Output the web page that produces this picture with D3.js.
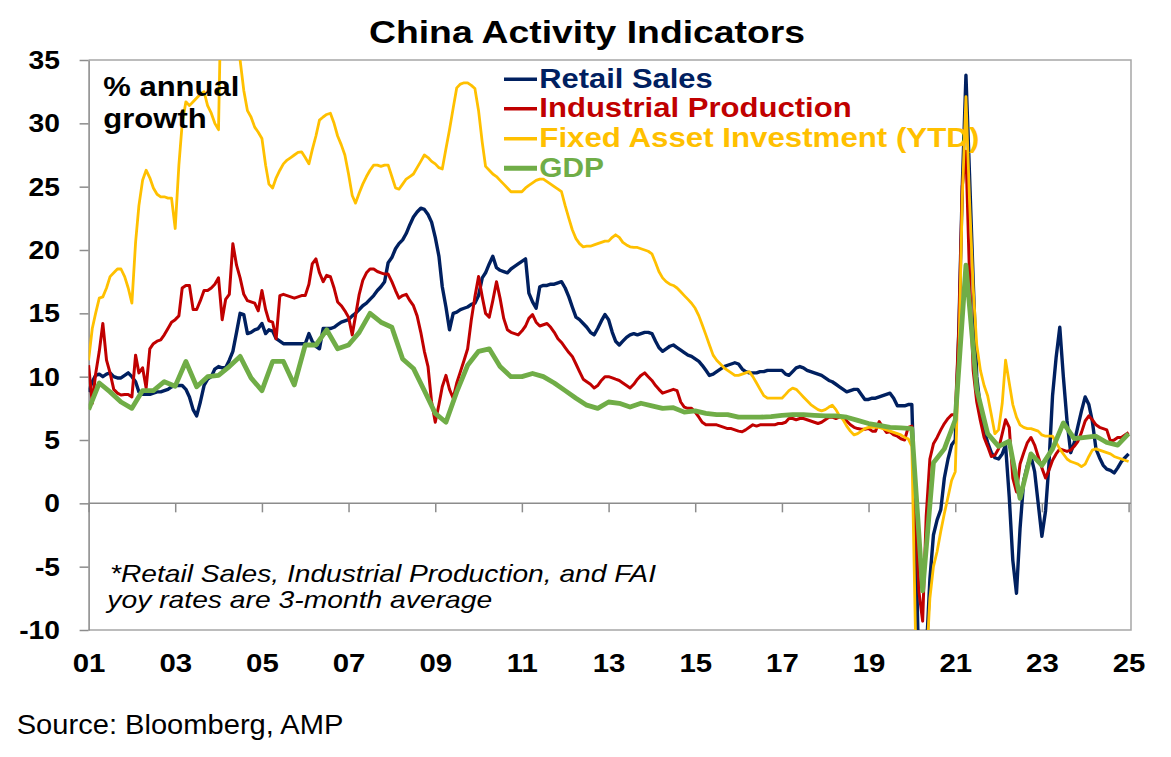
<!DOCTYPE html>
<html>
<head>
<meta charset="utf-8">
<script src="https://cdn.jsdelivr.net/npm/d3@7"></script>
<style>
  html, body { margin: 0; padding: 0; background: #fff; }
  svg { display: block; }
  text { font-family: "Liberation Sans", Arial, Helvetica, sans-serif; }
</style>
</head>
<body>
<svg id="chart" width="1171" height="757"></svg>
<script>
// Monthly points, Jan 2001 .. Jan 2025 (one row per year), % annual growth
const retailSales = [
  8.8, 9.6, 10.1, 10.2, 10.0, 10.2, 10.3, 10.0, 9.9, 9.9, 10.1, 10.3,
  10.0, 9.6, 8.8, 8.6, 8.6, 8.6, 8.7, 8.8, 8.8, 8.9, 9.0, 9.2,
  9.3, 9.3, 9.3, 9.0, 8.4, 7.4, 6.9, 8.0, 9.3, 9.8, 10.0, 10.6,
  10.8, 10.7, 10.7, 11.3, 12.0, 13.5, 15.0, 14.9, 13.4, 13.5, 13.7, 13.8,
  14.2, 13.4, 13.7, 13.6, 13.0, 12.8, 12.6, 12.6, 12.6, 12.6, 12.6, 12.6,
  12.6, 13.4, 12.8, 12.4, 12.2, 13.8, 13.8, 13.8, 13.9, 14.1, 14.3, 14.4,
  14.5, 14.8, 15.0, 15.3, 15.6, 15.8, 16.1, 16.4, 16.8, 17.1, 17.5, 19.0,
  19.4, 20.1, 20.5, 20.8, 21.3, 22.0, 22.6, 23.0, 23.3, 23.2, 22.8, 22.2,
  21.0, 19.5, 17.1, 15.5, 13.7, 15.0, 15.1, 15.3, 15.4, 15.5, 15.7, 15.8,
  16.4, 17.8, 18.2, 18.9, 19.5, 18.6, 18.4, 18.3, 18.2, 18.5, 18.7, 18.9,
  19.1, 19.3, 16.6, 15.9, 15.4, 17.1, 17.2, 17.2, 17.3, 17.3, 17.4, 17.5,
  17.0, 16.3, 15.5, 14.7, 14.5, 14.2, 13.9, 13.5, 13.3, 13.8, 14.4, 14.9,
  14.5, 13.5, 12.8, 12.5, 12.8, 13.1, 13.3, 13.4, 13.3, 13.4, 13.5, 13.5,
  13.4, 12.8, 12.3, 12.0, 12.2, 12.4, 12.5, 12.3, 12.1, 11.9, 11.7, 11.6,
  11.4, 11.2, 10.9, 10.5, 10.1, 10.2, 10.4, 10.6, 10.8, 10.9, 11.0, 11.1,
  11.0, 10.6, 10.4, 10.3, 10.3, 10.3, 10.4, 10.4, 10.5, 10.5, 10.5, 10.5,
  10.5, 10.2, 10.1, 10.4, 10.7, 10.8, 10.7, 10.5, 10.4, 10.3, 10.2, 10.1,
  9.9, 9.7, 9.6, 9.4, 9.2, 9.0, 8.8, 8.9, 9.0, 9.0, 8.6, 8.2,
  8.2, 8.3, 8.3, 8.4, 8.5, 8.6, 8.7, 8.3, 7.7, 7.7, 7.7, 7.8,
  7.8, -2.0, -14.0, -19.0, -12.0, -6.0, -2.5, -1.3, -0.5, 2.0, 3.5, 4.6,
  5.0, 14.0, 25.0, 33.8, 26.0, 17.6, 10.0, 7.5, 5.8, 4.8, 4.0, 3.6,
  3.5, 3.9, 4.6, 0.5, -4.5, -7.1, -2.0, 1.8, 3.0, 3.7, 2.5, 0.0,
  -2.6, -0.6, 3.0, 8.5, 11.5, 13.9, 10.0, 6.5, 4.0, 4.8, 6.1, 7.3,
  8.4, 7.8, 6.5, 4.3, 3.6, 3.0, 2.7, 2.6, 2.4, 2.8, 3.3, 3.6,
  3.9
];

const industrialProduction = [
  10.9, 7.9, 10.2, 12.0, 14.2, 11.3, 10.3, 9.0, 8.7, 8.55, 8.6, 8.6,
  8.4, 11.7, 10.3, 10.7, 9.1, 12.2, 12.6, 12.8, 12.9, 13.3, 13.8, 14.3,
  14.5, 14.8, 17.0, 17.2, 17.2, 15.3, 15.3, 16.0, 16.8, 16.8, 17.0, 17.3,
  17.8, 14.5, 16.1, 16.5, 20.5, 18.8, 17.8, 16.5, 16.0, 15.9, 15.8, 15.2,
  16.8, 15.3, 14.4, 14.3, 13.0, 16.4, 16.5, 16.4, 16.3, 16.2, 16.3, 16.4,
  16.4, 17.3, 18.9, 19.3, 18.2, 17.5, 18.0, 17.9, 17.0, 15.9, 15.6, 15.2,
  14.7, 13.3, 14.8, 16.5, 17.6, 18.2, 18.5, 18.5, 18.3, 18.2, 18.1, 18.1,
  17.5, 16.8, 16.2, 16.4, 16.5, 16.0, 15.6, 14.8, 13.5, 12.0, 10.8, 8.0,
  6.4, 7.8, 9.2, 10.1, 9.0, 8.3, 9.5, 10.4, 11.3, 12.2, 14.5, 16.3,
  17.9, 16.3, 15.0, 14.7, 16.0, 17.5, 16.2, 14.6, 13.7, 13.5, 13.4, 13.3,
  13.6, 14.0, 14.6, 14.9, 14.3, 14.0, 14.1, 14.2, 13.9, 13.5, 13.0, 12.7,
  12.3, 11.9, 11.6, 11.0, 10.4, 9.8, 9.6, 9.4, 9.1, 9.3, 9.7, 10.0,
  10.0, 9.9, 9.8, 9.7, 9.5, 9.3, 9.1, 9.4, 9.8, 10.1, 10.3, 10.0,
  9.7, 9.3, 9.0, 8.7, 8.8, 8.9, 9.0, 8.9, 8.0, 7.6, 7.5, 7.5,
  7.2, 6.8, 6.4, 6.2, 6.2, 6.2, 6.2, 6.1, 6.0, 5.9, 5.9, 5.8,
  5.7, 5.65, 5.8, 6.0, 6.2, 6.1, 6.2, 6.2, 6.2, 6.2, 6.2, 6.3,
  6.3, 6.4, 6.7, 6.7, 6.6, 6.7, 6.7, 6.6, 6.5, 6.4, 6.3, 6.4,
  6.6, 6.8, 6.8, 6.7, 6.8, 6.8, 6.5, 6.2, 6.0, 5.9, 5.85, 5.85,
  5.9, 5.7, 5.7, 6.45, 6.0, 5.6, 5.65, 5.4, 5.3, 5.1, 5.0, 6.0,
  6.1, -1.0, -7.0, -9.3, -1.0, 3.5, 4.7, 5.2, 5.8, 6.3, 6.7, 7.0,
  7.0, 14.0, 25.0, 27.8, 18.0, 10.5, 8.0, 6.5, 5.2, 4.5, 3.7, 3.8,
  4.3, 5.5, 6.6, 6.0, 2.0, 0.9, 3.1, 4.0, 4.8, 5.2, 4.6, 3.7,
  2.8, 2.0, 2.6, 3.4, 3.9, 4.3, 4.2, 4.1, 4.2, 4.5, 4.9, 5.6,
  6.5, 6.9, 6.6, 6.2, 6.0, 5.9, 5.8, 4.9, 5.0, 5.2, 5.2, 5.4,
  5.6
];

const fixedAssetInvestment = [
  11.3, 13.8, 15.0, 16.2, 16.3, 17.0, 17.9, 18.2, 18.5, 18.5, 17.9, 17.0,
  15.8, 20.6, 23.5, 25.5, 26.3, 25.7, 24.9, 24.4, 24.2, 24.2, 24.1, 24.1,
  21.7, 26.7, 30.0, 31.7, 31.4, 31.7, 32.0, 32.3, 32.5, 31.4, 30.8, 30.0,
  29.5, 45.0, 53.0, 47.8, 42.8, 38.0, 35.0, 32.6, 31.0, 30.5, 29.7, 29.3,
  28.8, 26.7, 25.2, 24.9, 25.7, 26.3, 26.8, 27.1, 27.3, 27.5, 27.7, 27.75,
  27.3, 26.8, 27.9, 29.0, 30.25, 30.5, 30.7, 30.8, 30.0, 29.0, 28.3, 27.5,
  26.0, 24.3, 23.7, 24.5, 25.2, 25.8, 26.3, 26.7, 26.7, 26.6, 26.7, 26.7,
  25.8, 24.9, 24.8, 25.2, 25.6, 25.8, 26.0, 26.5, 27.0, 27.5, 27.3, 27.0,
  26.8, 26.5, 26.4, 28.0, 29.5, 31.2, 32.8, 33.1, 33.2, 33.2, 33.0, 32.75,
  31.0, 28.5, 26.6, 26.3, 26.0, 25.8, 25.5, 25.2, 24.9, 24.6, 24.6, 24.6,
  24.6, 24.9, 25.1, 25.3, 25.5, 25.6, 25.6, 25.4, 25.2, 25.0, 24.8, 24.6,
  23.5, 22.5, 21.6, 20.9, 20.5, 20.25, 20.3, 20.3, 20.4, 20.5, 20.6, 20.7,
  20.7, 21.0, 21.2, 21.0, 20.6, 20.4, 20.25, 20.2, 20.2, 20.1, 20.0, 19.9,
  19.7, 19.0, 18.3, 17.8, 17.5, 17.3, 17.2, 17.0, 16.7, 16.4, 16.1, 15.8,
  15.4, 14.8, 14.1, 13.3, 12.5, 11.7, 11.3, 11.0, 10.7, 10.5, 10.3, 10.1,
  10.1, 10.2, 10.3, 10.4, 10.0, 9.5, 9.0, 8.5, 8.3, 8.3, 8.3, 8.3,
  8.3, 8.6, 8.9, 9.1, 9.0, 8.7, 8.4, 8.1, 7.8, 7.6, 7.4, 7.3,
  7.4, 7.6, 7.75, 7.4, 6.9, 6.6, 6.1, 5.7, 5.4, 5.5, 5.7, 5.9,
  6.0, 6.0, 6.0, 6.0, 5.9, 5.8, 5.7, 5.6, 5.5, 5.4, 5.2, 5.1,
  4.5, -10.5, -24.5, -20.0, -13.0, -7.5, -5.0, -3.8, -2.2, -0.8, 0.5, 1.8,
  2.5, 12.0, 24.0, 32.1, 24.0, 17.0, 12.5, 10.5, 9.3, 8.5, 7.0, 5.5,
  5.8, 7.9, 11.3, 9.5, 7.8, 6.8, 6.2, 6.0, 5.9, 5.9, 5.8, 5.7,
  5.4, 5.3, 5.3, 5.3, 4.8, 4.3, 3.9, 3.5, 3.3, 3.2, 3.1, 2.9,
  3.1, 3.7, 4.2, 4.3, 4.2, 4.1, 4.0, 3.9, 3.7, 3.6, 3.5, 3.4,
  3.3
];

// Quarterly points, Jan 2001 .. Jan 2025 (4 per year)
const gdp = [
  7.4, 9.5, 8.8, 8.0,
  7.5, 8.9, 8.9, 9.6,
  9.25, 11.2, 9.2, 10.0,
  10.1, 10.8, 11.6, 9.9,
  8.9, 11.2, 11.2, 9.35,
  12.5, 12.5, 13.7, 12.2,
  12.5, 13.5, 15.0, 14.3,
  13.9, 11.4, 10.65, 8.9,
  7.1, 6.4, 8.8, 10.9,
  12.0, 12.2, 10.8, 10.0,
  10.0, 10.25, 10.0, 9.5,
  8.9, 8.3, 7.75, 7.5,
  8.0, 7.9, 7.6, 7.9,
  7.7, 7.5, 7.55, 7.2,
  7.3, 7.1, 7.0, 7.0,
  6.8, 6.8, 6.8, 6.85,
  6.95, 7.0, 7.0, 6.95,
  6.9, 6.9, 6.8, 6.55,
  6.3, 6.15, 6.0, 5.95,
  5.9, -6.9, 3.2, 4.3,
  6.6, 18.8, 9.0, 5.5,
  4.5, 4.9, 0.4, 3.9,
  3.0, 4.3, 6.35, 5.1,
  5.2, 5.3, 4.8, 4.6,
  5.5
];

const seriesNames = ["Retail Sales", "Industrial Production", "Fixed Asset Investment (YTD)", "GDP"];
const seriesColors = ["#002060", "#C00000", "#FFC000", "#70AD47"];
const yTicks = d3.range(-10, 36, 5);
const xTickYears = d3.range(2001, 2026, 2);
const footnote = ["*Retail Sales, Industrial Production, and FAI", "yoy rates are 3-month average"];

const svg = d3.select("#chart");
const start = new Date(2001, 0, 1);
const plotLeft = 88.6, plotRight = 1131, plotTop = 60, plotBottom = 630;

const x = d3.scaleTime()
  .domain([start, new Date(2025, 0, 1)])
  .range([plotLeft, 1128.6]);
const y = d3.scaleLinear().domain([-10, 35]).range([plotBottom, plotTop]);

const toMonthly = (vals) => vals.map((v, i) => ({ date: d3.timeMonth.offset(start, i), value: v }));
const toQuarterly = (vals) => vals.map((v, i) => ({ date: d3.timeMonth.offset(start, 3 * i), value: v }));

const series = [
  { data: toMonthly(retailSales), width: 3.4 },
  { data: toMonthly(industrialProduction), width: 3.0 },
  { data: toMonthly(fixedAssetInvestment), width: 2.8 },
  { data: toQuarterly(gdp), width: 4.8 },
];

// widen glyphs a bit, the source picture is stretched horizontally
function stretch(sel, k) {
  sel.each(function () {
    const w = this.getComputedTextLength();
    d3.select(this).attr("textLength", w * k).attr("lengthAdjust", "spacingAndGlyphs");
  });
}

// title
svg.append("text")
  .attr("x", 369).attr("y", 43.3)
  .attr("font-size", 31).attr("font-weight", "bold")
  .attr("textLength", 436).attr("lengthAdjust", "spacingAndGlyphs")
  .text("China Activity Indicators");

// frame
svg.append("path")
  .attr("d", `M${plotLeft},${plotTop}H${plotRight}V${plotBottom}H${plotLeft}`)
  .attr("fill", "none").attr("stroke", "#a6a6a6").attr("stroke-width", 1.5);

// y axis (plain hyphen for negatives, as in the source)
const yAxis = svg.append("g")
  .attr("transform", `translate(${plotLeft},0)`)
  .call(d3.axisLeft(y).tickValues(yTicks).tickSize(9).tickSizeOuter(0).tickPadding(19.6)
    .tickFormat(d => String(d)));
yAxis.select(".domain").attr("stroke", "#868686").attr("stroke-width", 1.5);
yAxis.selectAll(".tick line").attr("stroke", "#8c8c8c").attr("stroke-width", 1.5);
yAxis.selectAll(".tick text")
  .attr("font-family", "Liberation Sans, Arial, sans-serif")
  .attr("font-size", 25).attr("font-weight", "bold").attr("fill", "#000")
  .attr("dy", "0.34em");
stretch(yAxis.selectAll(".tick text"), 1.13);

// zero line with year ticks
const yearDates = xTickYears.map(yr => new Date(yr, 0, 1));
const zeroAxis = svg.append("g")
  .attr("transform", `translate(0,${y(0)})`)
  .call(d3.axisBottom(x).tickValues(yearDates).tickSize(9).tickSizeOuter(0).tickFormat(""));
zeroAxis.select(".domain").attr("d", `M${plotLeft},0H${plotRight}`).attr("stroke", "#8c8c8c").attr("stroke-width", 1.5);
zeroAxis.selectAll(".tick line").attr("stroke", "#8c8c8c").attr("stroke-width", 1.5);

// year labels under the plot
const labelAxis = svg.append("g")
  .attr("transform", `translate(0,${plotBottom})`)
  .call(d3.axisBottom(x).tickValues(yearDates).tickSize(0).tickPadding(24)
    .tickFormat(d3.timeFormat("%y")));
labelAxis.select(".domain").remove();
labelAxis.selectAll(".tick text")
  .attr("font-family", "Liberation Sans, Arial, sans-serif")
  .attr("font-size", 26).attr("font-weight", "bold").attr("fill", "#000");
stretch(labelAxis.selectAll(".tick text"), 1.13);

// lines
svg.append("clipPath").attr("id", "plot-clip")
  .append("rect").attr("x", plotLeft).attr("y", plotTop)
  .attr("width", plotRight - plotLeft).attr("height", plotBottom - plotTop);

const line = d3.line().x(d => x(d.date)).y(d => y(d.value));

svg.append("g").attr("clip-path", "url(#plot-clip)")
  .selectAll("path")
  .data(series)
  .join("path")
  .attr("d", d => line(d.data))
  .attr("fill", "none")
  .attr("stroke", (d, i) => seriesColors[i])
  .attr("stroke-width", d => d.width)
  .attr("stroke-linejoin", "round");

// "% annual growth"
svg.append("text").attr("x", 103.3).attr("y", 95.7)
  .attr("font-size", 27).attr("font-weight", "bold")
  .attr("textLength", 136).attr("lengthAdjust", "spacingAndGlyphs")
  .text("% annual");
svg.append("text").attr("x", 103.3).attr("y", 127.5)
  .attr("font-size", 27).attr("font-weight", "bold")
  .attr("textLength", 103.4).attr("lengthAdjust", "spacingAndGlyphs")
  .text("growth");

// legend
const legendBase = [87.7, 117.3, 147.3, 176.7];
const legendWidths = [173.4, 312.4, 440, 64.7];
const legend = svg.append("g");
seriesNames.forEach((name, i) => {
  legend.append("line")
    .attr("x1", 504).attr("x2", 537)
    .attr("y1", legendBase[i] - 8.5).attr("y2", legendBase[i] - 8.5)
    .attr("stroke", seriesColors[i]).attr("stroke-width", i === 3 ? 5 : 3.5);
  legend.append("text")
    .attr("x", 539.3).attr("y", legendBase[i])
    .attr("font-size", 27).attr("font-weight", "bold")
    .attr("fill", seriesColors[i])
    .attr("textLength", legendWidths[i]).attr("lengthAdjust", "spacingAndGlyphs")
    .text(name);
});

// footnote
svg.append("text").attr("x", 110).attr("y", 581.7)
  .attr("font-size", 24).attr("font-style", "italic")
  .attr("textLength", 546).attr("lengthAdjust", "spacingAndGlyphs")
  .text(footnote[0]);
svg.append("text").attr("x", 107.3).attr("y", 608.3)
  .attr("font-size", 24).attr("font-style", "italic")
  .attr("textLength", 385).attr("lengthAdjust", "spacingAndGlyphs")
  .text(footnote[1]);

// source
svg.append("text").attr("x", 16.7).attr("y", 734)
  .attr("font-size", 28)
  .attr("textLength", 326.7).attr("lengthAdjust", "spacingAndGlyphs")
  .text("Source: Bloomberg, AMP");
</script>
</body>
</html>
